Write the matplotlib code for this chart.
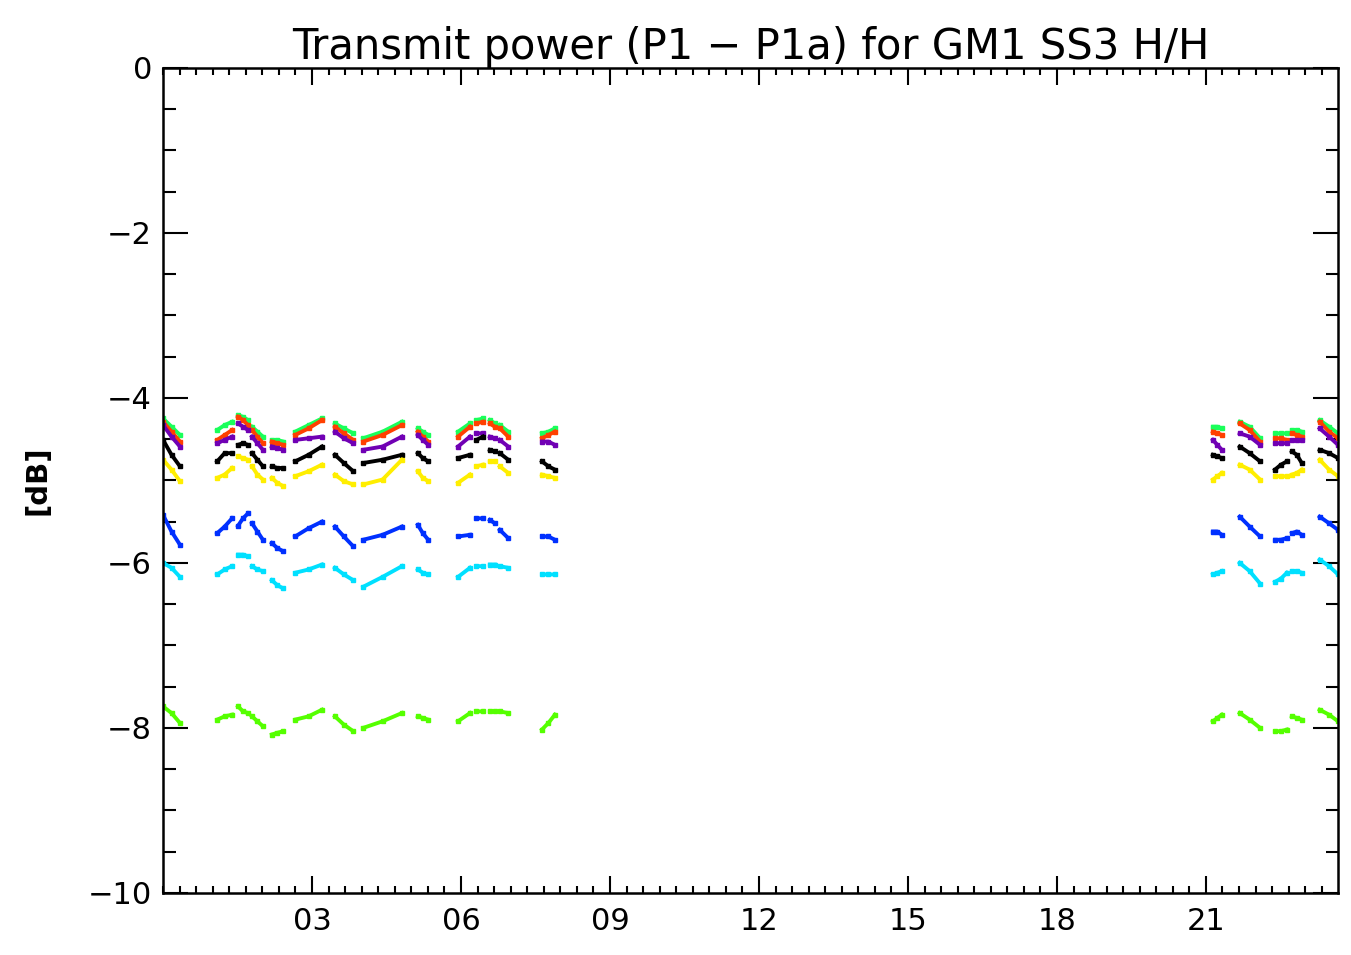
import numpy as np
import matplotlib
matplotlib.use('Agg')
import matplotlib.pyplot as plt
from matplotlib.ticker import MultipleLocator

# measurement passes (hours of day), one list per pass
seg_hours = [
    [0.00, 0.17, 0.34], [1.09, 1.24, 1.39], [1.51, 1.61, 1.71], [1.79, 1.90, 2.01],
    [2.19, 2.30, 2.42], [2.66, 2.93, 3.20], [3.46, 3.64, 3.83], [4.03, 4.42, 4.81],
    [5.13, 5.23, 5.34], [5.94, 6.18], [6.31, 6.44], [6.58, 6.68], [6.78, 6.95],
    [7.63, 7.76, 7.89], [21.14, 21.23, 21.32], [21.68, 21.88, 22.09],
    [22.39, 22.51, 22.63], [22.73, 22.83, 22.93], [23.29, 23.48, 23.66],
]

green = [[-4.25, -4.35, -4.45], [-4.39, -4.33, -4.29], [-4.21, -4.23, -4.27], [-4.35, -4.41, -4.47],
         [-4.51, -4.51, -4.53], [-4.41, -4.33, -4.25], [-4.31, -4.37, -4.43], [-4.49, -4.41, -4.29],
         [-4.37, -4.41, -4.45], [-4.41, -4.31], [-4.27, -4.25], [-4.27, -4.31], [-4.33, -4.41],
         [-4.43, -4.41, -4.37], [-4.35, -4.35, -4.37], [-4.29, -4.35, -4.49],
         [-4.43, -4.43, -4.43], [-4.39, -4.39, -4.41], [-4.27, -4.35, -4.43]]

red = [[-4.29, -4.41, -4.53], [-4.51, -4.45, -4.39], [-4.23, -4.27, -4.33], [-4.39, -4.47, -4.55],
       [-4.53, -4.55, -4.57], [-4.45, -4.37, -4.27], [-4.35, -4.43, -4.51], [-4.53, -4.45, -4.33],
       [-4.41, -4.47, -4.53], [-4.47, -4.35], [-4.31, -4.29], [-4.31, -4.35], [-4.37, -4.47],
       [-4.49, -4.45, -4.41], [-4.41, -4.43, -4.45], [-4.31, -4.39, -4.53],
       [-4.49, -4.49, -4.51], [-4.43, -4.45, -4.47], [-4.29, -4.41, -4.49]]

purple = [[-4.33, -4.47, -4.59], [-4.55, -4.51, -4.47], [-4.31, -4.35, -4.39], [-4.47, -4.55, -4.63],
          [-4.59, -4.61, -4.63], [-4.51, -4.49, -4.47], [-4.41, -4.49, -4.55], [-4.63, -4.59, -4.47],
          [-4.45, -4.51, -4.57], [-4.59, -4.47], [-4.43, -4.43], [-4.47, -4.49], [-4.51, -4.59],
          [-4.53, -4.53, -4.57], [-4.51, -4.57, -4.63], [-4.43, -4.47, -4.57],
          [-4.55, -4.55, -4.55], [-4.51, -4.51, -4.51], [-4.37, -4.47, -4.57]]

black = [[-4.51, -4.69, -4.83], [-4.77, -4.67, -4.67], [-4.57, -4.55, -4.57], [-4.67, -4.75, -4.83],
         [-4.83, -4.85, -4.85], [-4.77, -4.69, -4.59], [-4.69, -4.79, -4.89], [-4.79, -4.75, -4.69],
         [-4.67, -4.73, -4.77], [-4.73, -4.69], [-4.51, -4.47], [-4.63, -4.65], [-4.67, -4.75],
         [-4.77, -4.83, -4.87], [-4.69, -4.71, -4.73], [-4.59, -4.67, -4.77],
         [-4.87, -4.81, -4.77], [-4.65, -4.69, -4.79], [-4.63, -4.67, -4.73]]

yellow = [[-4.75, -4.87, -5.01], [-4.97, -4.93, -4.85], [-4.71, -4.73, -4.75], [-4.83, -4.93, -4.99],
          [-4.97, -5.03, -5.07], [-4.95, -4.89, -4.81], [-4.93, -5.01, -5.05], [-5.05, -4.99, -4.75],
          [-4.89, -4.97, -5.01], [-5.03, -4.93], [-4.83, -4.81], [-4.77, -4.77], [-4.83, -4.91],
          [-4.93, -4.95, -4.97], [-4.99, -4.95, -4.91], [-4.81, -4.87, -4.99],
          [-4.95, -4.95, -4.95], [-4.93, -4.91, -4.87], [-4.75, -4.87, -4.95]]

blue = [[-5.42, -5.62, -5.78], [-5.64, -5.56, -5.46], [-5.55, -5.46, -5.40], [-5.52, -5.62, -5.72],
        [-5.76, -5.82, -5.86], [-5.68, -5.58, -5.50], [-5.56, -5.68, -5.80], [-5.72, -5.66, -5.56],
        [-5.54, -5.64, -5.72], [-5.68, -5.66], [-5.46, -5.46], [-5.48, -5.52], [-5.60, -5.70],
        [-5.68, -5.68, -5.72], [-5.62, -5.62, -5.66], [-5.44, -5.56, -5.68],
        [-5.72, -5.72, -5.70], [-5.64, -5.62, -5.66], [-5.44, -5.52, -5.60]]

cyan = [[-6.00, -6.06, -6.17], [-6.14, -6.08, -6.04], [-5.90, -5.90, -5.92], [-6.04, -6.08, -6.10],
        [-6.21, -6.27, -6.31], [-6.12, -6.08, -6.02], [-6.06, -6.14, -6.21], [-6.29, -6.17, -6.04],
        [-6.08, -6.12, -6.14], [-6.17, -6.06], [-6.04, -6.04], [-6.02, -6.02], [-6.04, -6.06],
        [-6.14, -6.14, -6.14], [-6.14, -6.12, -6.10], [-6.00, -6.10, -6.25],
        [-6.23, -6.19, -6.12], [-6.10, -6.10, -6.12], [-5.96, -6.04, -6.14]]

lime = [[-7.74, -7.82, -7.94], [-7.90, -7.86, -7.84], [-7.74, -7.80, -7.82], [-7.86, -7.92, -7.98],
        [-8.08, -8.06, -8.04], [-7.90, -7.86, -7.78], [-7.86, -7.96, -8.04], [-8.00, -7.92, -7.82],
        [-7.86, -7.88, -7.90], [-7.92, -7.82], [-7.80, -7.80], [-7.80, -7.80], [-7.80, -7.82],
        [-8.02, -7.94, -7.84], [-7.92, -7.88, -7.84], [-7.82, -7.90, -8.00],
        [-8.04, -8.04, -8.02], [-7.86, -7.88, -7.90], [-7.78, -7.84, -7.92]]

series = [
    (green, '#1aff5a'),
    (red, '#ff4000'),
    (purple, '#7000b4'),
    (black, '#000000'),
    (yellow, '#ffee00'),
    (blue, '#0030ff'),
    (cyan, '#00e0ff'),
    (lime, '#55ff00'),
]

x_ticks = [3, 6, 9, 12, 15, 18, 21]
x_labels = ['03', '06', '09', '12', '15', '18', '21']
y_ticks = [0, -2, -4, -6, -8, -10]


def join(segs):
    # put NaN between passes so the lines break
    out = []
    for s in segs:
        out.extend(s)
        out.append(np.nan)
    return np.array(out)


fig = plt.figure(figsize=(13.51, 9.55), dpi=100)
ax = fig.add_axes([0.1207, 0.065, 0.8697, 0.864])

xs = join(seg_hours)
for vals, col in series:
    ax.plot(xs, join(vals), color=col, lw=2.8, marker='s', ms=3)

ax.set_xlim(0, 23.66)
ax.set_ylim(-10, 0)
ax.set_xticks(x_ticks)
ax.set_xticklabels(x_labels)
ax.xaxis.set_minor_locator(MultipleLocator(1 / 3))
ax.set_yticks(y_ticks)
ax.yaxis.set_minor_locator(MultipleLocator(0.5))

ax.tick_params(which='both', direction='in', top=True, right=True, width=1.5, labelsize=22)
ax.tick_params(axis='x', which='major', length=12, pad=10)
ax.tick_params(axis='x', which='minor', length=5)
ax.tick_params(axis='y', which='major', length=18, pad=8)
ax.tick_params(axis='y', which='minor', length=9)
for sp in ax.spines.values():
    sp.set_linewidth(1.8)

ax.set_title('Transmit power (P1 \u2212 P1a) for GM1 SS3 H/H', fontsize=30, pad=6)
ax.set_ylabel('[dB]', fontsize=21, fontweight='bold')
ax.yaxis.set_label_coords(-0.095, 0.5)

plt.savefig('out.png', dpi=100)
